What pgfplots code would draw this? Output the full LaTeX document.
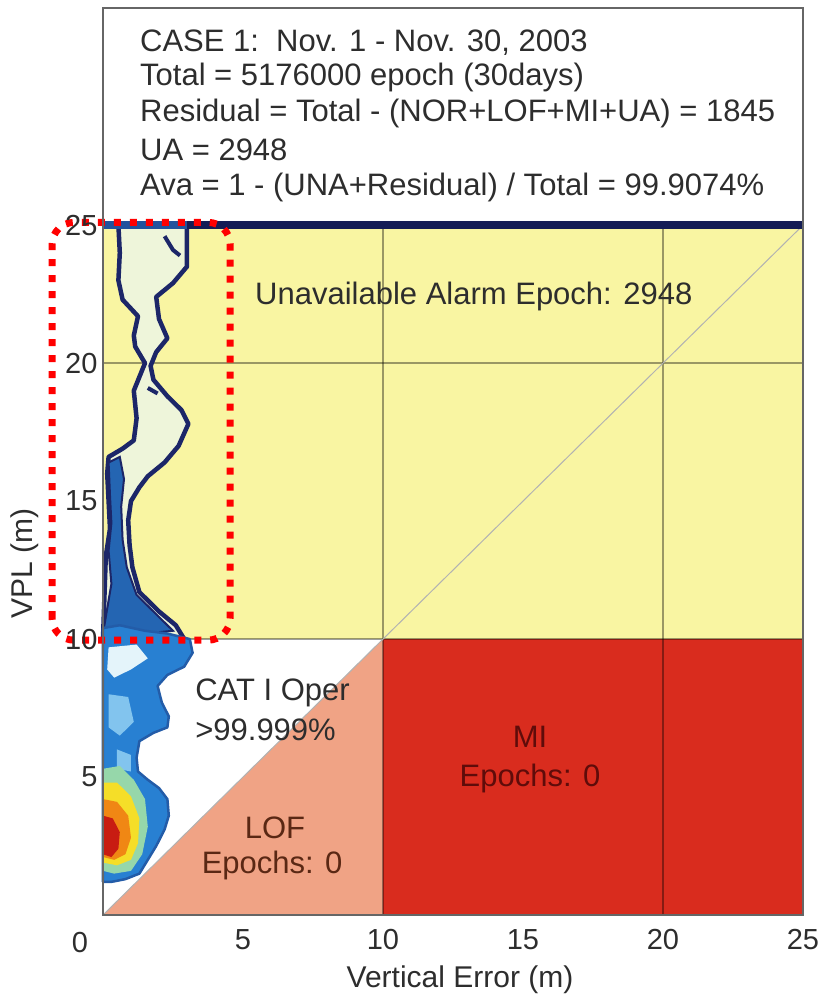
\documentclass[border=0pt]{standalone}
\usepackage{fontspec}
\setmainfont{Liberation Sans}
\usepackage{pgfplots}
\pgfplotsset{compat=1.18}

\definecolor{unavail}{RGB}{249,245,162}
\definecolor{lofc}{RGB}{240,163,133}
\definecolor{mic}{RGB}{217,44,30}
\definecolor{navy}{RGB}{28,38,104}
\definecolor{bandnavy}{RGB}{20,28,85}
\definecolor{cloudpale}{RGB}{238,245,218}
\definecolor{cloudblue}{RGB}{40,128,210}
\definecolor{cloudlight}{RGB}{130,196,238}
\definecolor{cloudhole}{RGB}{228,244,250}
\definecolor{coregreen}{RGB}{150,215,170}
\definecolor{coreyellow}{RGB}{245,222,40}
\definecolor{coreorange}{RGB}{240,135,20}
\definecolor{corered}{RGB}{200,28,18}
\definecolor{txt}{RGB}{45,45,45}

\begin{document}
\begin{tikzpicture}
\useasboundingbox (-103pt,-83pt) rectangle (721pt,915pt);
\begin{axis}[
  at={(0,0)}, anchor=south west,
  scale only axis, width=700pt, height=907pt,
  xmin=0, xmax=25, ymin=0, ymax=32.87,
  xtick={5,10,15,20,25}, ytick={5,10,15,20,25},
  major tick length=0pt,
  /pgf/number format/assume math mode=true,
  tick label style={font=\fontsize{29}{29}\selectfont, text=txt},
  xticklabel style={yshift=-11pt},
  yticklabel style={xshift=-2pt},
  axis line style={draw=black!60, line width=1.5pt},
  axis on top,
  clip=false,
  xlabel={Vertical Error (m)}, ylabel={VPL (m)},
  label style={font=\fontsize{30}{30}\selectfont, text=txt},
  xlabel style={at={(axis description cs:0.51,-0.0717)}, anchor=center},
  ylabel style={at={(axis description cs:-0.1114,0.388)}, anchor=center},
]
% decision regions of the Stanford diagram
\addplot[fill=unavail, draw=none, forget plot] coordinates {(0,10)(25,10)(25,25)(0,25)} -- cycle;
\addplot[fill=lofc, draw=none, forget plot] coordinates {(0,0)(10,0)(10,10)} -- cycle;
\addplot[fill=mic, draw=none, forget plot] coordinates {(10,0)(25,0)(25,10)(10,10)} -- cycle;

% grid lines and the VE = VPL diagonal
\addplot[black, opacity=0.38, line width=1.6pt, forget plot] coordinates {(10,0)(10,25)};
\addplot[black, opacity=0.38, line width=1.6pt, forget plot] coordinates {(20,0)(20,25)};
\addplot[black, opacity=0.38, line width=1.6pt, forget plot] coordinates {(0,10)(25,10)};
\addplot[black, opacity=0.38, line width=1.6pt, forget plot] coordinates {(0,20)(25,20)};
\addplot[black!30, line width=1pt, forget plot] coordinates {(0,0)(25,25)};

% upper part of the epoch histogram (VPL between 10 and 25 m)
\addplot[fill=cloudpale, draw=navy, line width=4.5pt, line join=round, forget plot] coordinates {
 (0.55,25.0)(3.0,25.0)(3.0,24.0)(3.0,23.5)(2.5,22.9)(1.9,22.4)(2.0,21.6)(2.3,20.9)
 (1.9,20.4)(1.7,19.9)(1.8,19.4)(2.3,18.8)(2.8,18.3)(3.05,17.8)(2.7,17.0)(2.2,16.4)
 (1.6,15.9)(1.3,15.5)(1.0,15.0)(0.9,14.3)(0.95,13.4)(1.05,12.6)(1.3,11.7)(2.0,11.0)
 (2.6,10.5)(2.9,10.0)(0,10.0)(0.1,13.0)(0.25,14.0)(0.2,15.0)(0.15,16.0)(0.2,16.6)
 (0.7,16.9)(1.1,17.2)(1.2,18.0)(1.1,19.0)(1.3,19.5)(1.5,20.0)(1.15,20.6)(1.1,21.0)
 (1.25,21.7)(0.7,22.3)(0.55,23.0)(0.6,24.0)} -- cycle;
\addplot[fill=cloudblue!70!navy, draw=navy, line width=2pt, forget plot] coordinates {
 (0,10.2)(0.3,12.0)(0.2,13.2)(0.3,14.2)(0.25,15.2)(0.2,16.4)(0.6,16.6)(0.75,15.8)
 (0.65,14.8)(0.7,13.6)(0.85,12.6)(1.2,11.6)(1.9,10.9)(2.5,10.3)(1.5,10.2)} -- cycle;
\addplot[navy, line width=4pt, forget plot] coordinates {(2.2,24.6)(2.5,24.1)(2.75,23.9)};
\addplot[navy, line width=4pt, forget plot] coordinates {(1.6,19.1)(1.95,18.9)};

% lower part of the histogram (VPL below 10 m)
\addplot[fill=cloudblue, draw=cloudblue!60!navy, line width=2.5pt, line join=round, forget plot] coordinates {
 (0,10.4)(0.6,10.5)(1.5,10.3)(2.3,10.2)(3.1,10.0)(3.2,9.5)(2.9,9.0)(2.3,8.7)(1.95,8.3)
 (2.1,7.7)(2.35,7.2)(2.3,6.8)(1.8,6.6)(1.3,6.3)(1.2,5.7)(1.25,5.2)(1.6,4.9)(2.0,4.6)
 (2.3,4.2)(2.35,3.6)(2.2,3.1)(1.9,2.5)(1.6,2.0)(1.3,1.5)(0.8,1.3)(0.3,1.2)(0,1.2)} -- cycle;
\addplot[fill=cloudhole, draw=none, forget plot] coordinates {
 (0.2,9.7)(1.2,9.8)(1.6,9.3)(1.0,8.9)(0.4,8.6)(0.15,8.9)} -- cycle;
\addplot[fill=cloudlight, draw=none, forget plot] coordinates {
 (0.2,8.0)(0.9,7.9)(1.1,7.0)(0.6,6.5)(0.2,6.8)} -- cycle;
\addplot[fill=cloudlight, draw=none, forget plot] coordinates {
 (0.5,6.0)(1.0,5.8)(1.0,5.2)(0.5,5.3)} -- cycle;
\addplot[fill=coregreen, draw=none, forget plot] coordinates {
 (0,5.3)(0.6,5.4)(1.1,4.9)(1.5,4.2)(1.6,3.2)(1.4,2.2)(1.0,1.6)(0.4,1.5)(0,1.6)} -- cycle;
\addplot[fill=coreyellow, draw=none, forget plot] coordinates {
 (0,4.8)(0.5,4.8)(1.0,4.3)(1.3,3.5)(1.25,2.6)(1.0,2.0)(0.5,1.8)(0,1.9)} -- cycle;
\addplot[fill=coreorange, draw=none, forget plot] coordinates {
 (0,4.2)(0.5,4.1)(0.9,3.6)(1.0,2.8)(0.8,2.2)(0.4,2.0)(0,2.1)} -- cycle;
\addplot[fill=corered, draw=none, forget plot] coordinates {
 (0,3.6)(0.35,3.5)(0.6,3.0)(0.55,2.4)(0.3,2.1)(0,2.2)} -- cycle;

% epochs with VPL saturated at the 25 m limit
\addplot[bandnavy, line width=8pt, forget plot] coordinates {(3,25)(25,25)};
\addplot[cloudblue!50!navy, line width=8pt, forget plot] coordinates {(0,25)(3,25)};

% highlighted range of the histogram
\draw[red, line width=7pt, dash pattern=on 7pt off 9pt, rounded corners=22pt]
  (axis cs:-1.82,9.96) rectangle (axis cs:4.54,25.1);

% annotations
\begin{scope}[every node/.style={font=\fontsize{31}{31}\selectfont, text=txt, inner sep=0pt}]
\node[anchor=west] at (axis cs:1.32,31.63) {CASE 1:\ \ Nov. 1 - Nov. 30, 2003};
\node[anchor=west] at (axis cs:1.32,30.36) {Total = 5176000 epoch (30days)};
\node[anchor=west] at (axis cs:1.32,29.06) {Residual = Total - (NOR+LOF+MI+UA) = 1845};
\node[anchor=west] at (axis cs:1.32,27.72) {UA = 2948};
\node[anchor=west] at (axis cs:1.32,26.38) {Ava = 1 - (UNA+Residual) / Total = 99.9074\%};
\node[anchor=west] at (axis cs:5.43,22.4) {Unavailable Alarm Epoch: 2948};
\node[anchor=west] at (axis cs:3.29,8.04) {CAT I Oper};
\node[anchor=west] at (axis cs:3.29,6.70) {>99.999\%};
\node[text={rgb,255:red,90;green,40;blue,20}] at (axis cs:6.14,3.15) {LOF};
\node[text={rgb,255:red,90;green,40;blue,20}] at (axis cs:6.04,1.81) {Epochs: 0};
\node[text={rgb,255:red,95;green,12;blue,10}] at (axis cs:15.25,6.45) {MI};
\node[text={rgb,255:red,95;green,12;blue,10}] at (axis cs:15.25,4.96) {Epochs: 0};
\end{scope}
\node[font=\fontsize{29}{29}\selectfont, text=txt] at (axis description cs:-0.0329,-0.0298) {0};
\end{axis}
\end{tikzpicture}
\end{document}
